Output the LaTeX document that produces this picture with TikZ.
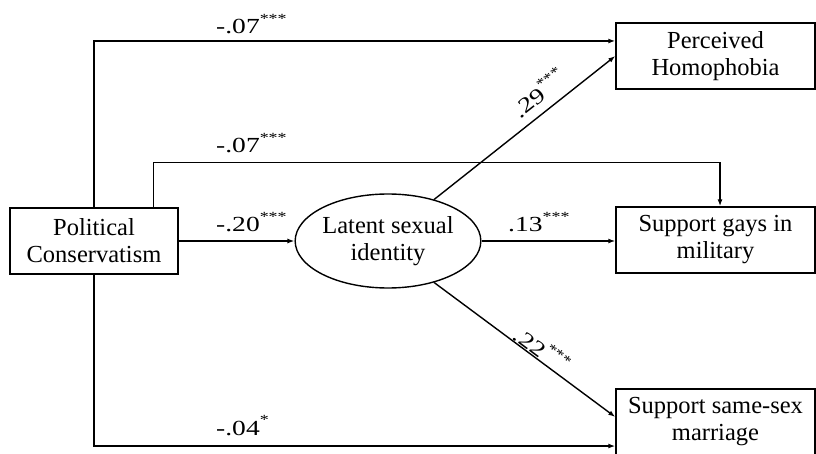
\documentclass[tikz,border=0pt]{standalone}
\usepackage{fontspec}
\setmainfont{Liberation Serif}
\newfontfamily\labfont{Liberation Serif}[FakeStretch=1.28]
\usetikzlibrary{arrows.meta,shapes.geometric}
\newcommand\pstar[1]{\raisebox{10.5pt}{\fontsize{14}{14}\selectfont #1}}
\begin{document}
\begin{tikzpicture}[x=1pt,y=-1pt,
  box/.style={draw,line width=1.4pt,minimum width=199pt,minimum height=66pt,align=center,
    font=\fontsize{24.5}{27}\selectfont,inner sep=0pt},
  latent/.style={ellipse,draw,line width=1.4pt,minimum width=168pt,minimum height=94pt,align=center,
    font=\fontsize{24.5}{27}\selectfont,inner sep=0pt},
  arr/.style={-{Latex[length=7pt,width=5pt]},line width=1.4pt},
  lab/.style={font=\labfont\fontsize{21.5}{21.5}\selectfont,inner sep=0pt}]
\useasboundingbox (0,0) rectangle (816,454);
\clip (0,0) rectangle (816,454);
\node[box,minimum width=168pt,minimum height=66pt] (pc) at (94,241) {Political\\Conservatism};
\node[box] (ph) at (715.5,56) {Perceived\\Homophobia};
\node[box] (sg) at (715.5,240) {Support gays in\\military};
\node[box] (ss) at (715.5,422) {Support same-sex\\marriage};
\node[latent] (lat) at (388,241) {Latent sexual\\identity};

\draw[arr] (pc.north) |- ([yshift=15pt]ph.west);
\draw[arr] ([xshift=-25pt]pc.north east) -- ++(0,-45) -| ([xshift=4.5pt]sg.north);
\draw[arr] (pc.south) |- ([yshift=-24pt]ss.west);
\draw[arr] (pc) -- (lat);
\draw[arr] (lat.east) -- (lat.east -| sg.west);
\draw[arr] (lat.42) -- (ph.west);
\draw[arr] (lat.-42) -- ([yshift=5pt]ss.west);

\node[lab,anchor=base west] (l1) at (216,34) {-.07\pstar{***}};
\node[lab,anchor=base west] (l2) at (216,153) {-.07\pstar{***}};
\node[lab,anchor=base west] (l3) at (216,232) {-.20\pstar{***}};
\node[lab,anchor=base west] (l4) at (508,232) {.13\pstar{***}};
\node[lab,anchor=base west] (l5) at (216,435) {-.04\pstar{*}};
\path (lat.42) -- (ph.west) node[lab,sloped,pos=0.64,anchor=south,inner ysep=9pt] (l6) {.29\pstar{***}};
\path (lat.-42) -- ([yshift=5pt]ss.west) node[lab,sloped,pos=0.56,anchor=south,inner ysep=1pt] (l7) {.22\pstar{***}};
\end{tikzpicture}
\end{document}
